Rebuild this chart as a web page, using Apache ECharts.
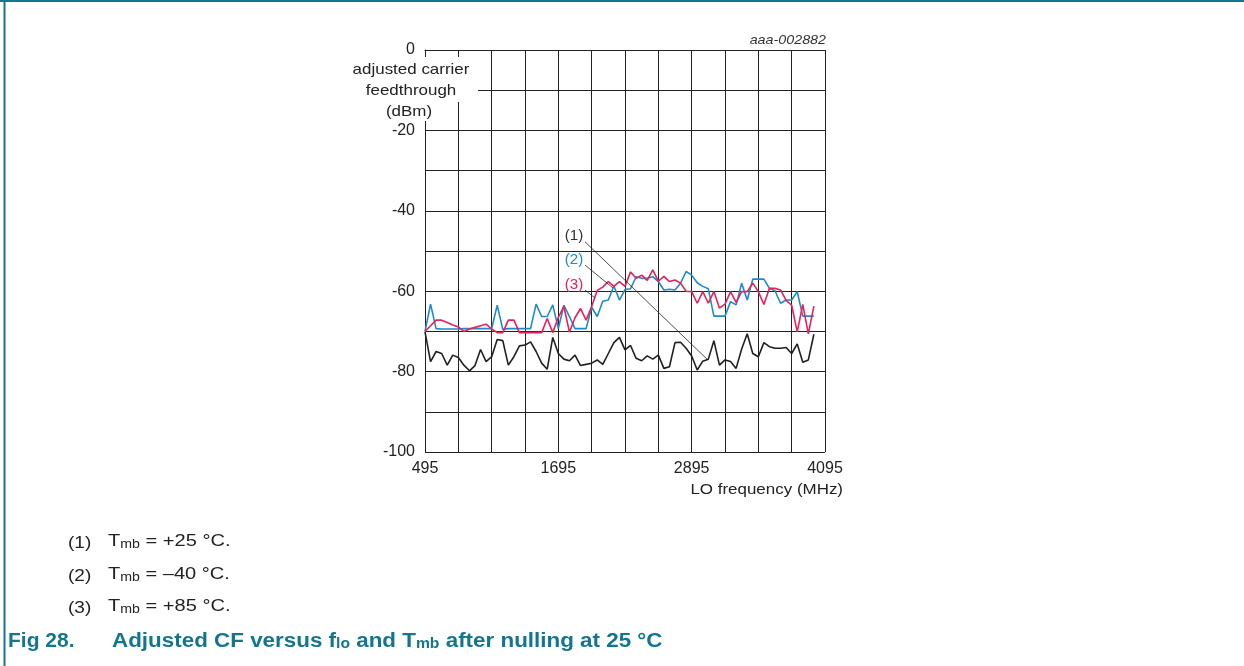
<!DOCTYPE html>
<html>
<head>
<meta charset="utf-8">
<title>Adjusted CF versus flo and Tmb</title>
<script src="https://cdn.jsdelivr.net/npm/echarts@6/dist/echarts.min.js"></script>
<style>
html, body { margin: 0; padding: 0; background: #fff; }
#chart { width: 1244px; height: 666px; }
</style>
</head>
<body>
<div id="chart"></div>
<script>
// LO frequency (MHz), one sample every 50 MHz
var loFreq = [495, 545, 595, 645, 695, 745, 795, 845, 895, 945,
	995, 1045, 1095, 1145, 1195, 1245, 1295, 1345, 1395, 1445,
	1495, 1545, 1595, 1645, 1695, 1745, 1795, 1845, 1895, 1945,
	1995, 2045, 2095, 2145, 2195, 2245, 2295, 2345, 2395, 2445,
	2495, 2545, 2595, 2645, 2695, 2745, 2795, 2845, 2895, 2945,
	2995, 3045, 3095, 3145, 3195, 3245, 3295, 3345, 3395, 3445,
	3495, 3545, 3595, 3645, 3695, 3745, 3795, 3845, 3895, 3945, 3995];

// (1) Tmb = +25 C
var cf25 = [-70.1, -77.5, -75.0, -75.5, -78.4, -75.9, -76.5, -78.4, -79.8, -78.5,
	-74.5, -77.5, -76.3, -72.0, -72.3, -78.4, -76.3, -73.6, -73.4, -72.6,
	-75.0, -77.9, -79.4, -71.5, -75.5, -76.9, -77.3, -75.9, -78.5, -78.2,
	-77.9, -77.1, -78.2, -75.5, -72.8, -71.5, -74.6, -73.5, -76.7, -77.3,
	-76.1, -76.9, -75.9, -79.2, -78.8, -72.8, -72.7, -74.2, -76.1, -79.6,
	-77.4, -76.9, -72.3, -78.4, -77.1, -77.5, -79.2, -74.4, -70.6, -75.5,
	-76.3, -72.8, -73.8, -74.2, -74.2, -74.0, -75.5, -73.1, -77.7, -77.1, -70.7];

// (2) Tmb = -40 C
var cfM40 = [-70.0, -63.2, -69.3, -69.4, -69.4, -69.4, -69.4, -69.3, -69.3, -69.3,
	-69.3, -69.3, -69.3, -63.5, -69.5, -69.3, -69.3, -69.3, -69.3, -69.3,
	-63.2, -66.3, -66.3, -63.4, -69.3, -63.5, -66.3, -69.3, -69.3, -69.3,
	-64.0, -66.3, -62.5, -62.2, -58.7, -62.2, -59.6, -59.4, -56.4, -56.8,
	-56.8, -56.4, -57.6, -59.7, -59.5, -59.7, -58.0, -55.1, -56.0, -57.9,
	-58.8, -59.4, -66.2, -66.2, -66.2, -62.6, -63.4, -58.0, -62.2, -57.0,
	-57.0, -57.0, -59.3, -59.9, -63.0, -62.2, -62.2, -60.1, -66.2, -66.2, -66.2];

// (3) Tmb = +85 C
var cf85 = [-70.0, -68.6, -67.2, -67.2, -67.8, -68.4, -68.9, -70.0, -69.4, -69.0,
	-68.6, -68.2, -69.4, -70.3, -70.3, -67.2, -67.2, -70.3, -70.3, -70.3,
	-70.3, -70.3, -66.8, -70.3, -66.5, -63.8, -70.2, -66.6, -64.3, -67.2,
	-63.8, -59.8, -59.0, -57.6, -58.8, -57.6, -58.8, -55.2, -56.8, -56.0,
	-57.3, -54.7, -57.5, -56.3, -57.6, -57.2, -58.0, -60.0, -60.1, -63.0,
	-60.1, -63.0, -60.1, -64.2, -63.2, -60.1, -62.8, -60.1, -60.1, -58.0,
	-60.1, -63.3, -59.3, -59.3, -59.7, -62.3, -63.5, -70.1, -63.3, -70.6, -63.7];

var xTickLabels = ['495', '1695', '2895', '4095'];
var yTickLabels = ['0', '-20', '-40', '-60', '-80', '-100'];

var X0 = 495; // axis starts at 495 MHz, values are shifted so ticks fall on 300 MHz steps
var FONT = '"Liberation Sans", Arial, sans-serif';
var TEAL = '#13768f';
var INK = '#222';

function toPairs(vals) {
	return loFreq.map(function(f, i) { return [f - X0, vals[i]]; });
}

// leader line from a label to its curve (data coordinates, MHz / dBm)
function leader(f1, v1, f2, v2) {
	return {
		silent: true,
		symbol: ['none', 'none'],
		animation: false,
		label: { show: false },
		lineStyle: { color: INK, width: 0.8, type: 'solid' },
		data: [[{ coord: [f1 - X0, v1] }, { coord: [f2 - X0, v2] }]]
	};
}

function note(y, text) {
	return { type: 'text', z: 101, x: 108, y: y, scaleX: 1.18, style: {
		text: text, fill: INK,
		rich: {
			t: { fontSize: 17, fontFamily: FONT, lineHeight: 20, verticalAlign: 'top', fill: INK },
			s: { fontSize: 12, fontFamily: FONT, lineHeight: 20, padding: [6, 0, 0, 0], verticalAlign: 'top', fill: INK }
		}
	} };
}

function noteNum(y, text) {
	return { type: 'text', z: 101, x: 68, y: y, scaleX: 1.12, style: { text: text, font: '17px ' + FONT, fill: INK, verticalAlign: 'middle' } };
}

var chart = echarts.init(document.getElementById('chart'), null, { renderer: 'canvas' });

var option = {
	animation: false,
	backgroundColor: '#fff',
	grid: { left: 425, top: 50, width: 400, height: 402 },
	xAxis: {
		type: 'value',
		min: 0,
		max: 3600,
		interval: 300,
		axisLine: { show: true, lineStyle: { color: INK, width: 1 } },
		axisTick: { show: false },
		splitLine: { show: true, lineStyle: { color: INK, width: 1 } },
		axisLabel: {
			margin: 9,
			color: INK,
			fontFamily: FONT,
			fontSize: 16,
			showMinLabel: true,
			showMaxLabel: true,
			formatter: function(v) {
				return v % 1200 === 0 ? xTickLabels[v / 1200] : '';
			}
		}
	},
	yAxis: {
		type: 'value',
		min: -100,
		max: 0,
		interval: 10,
		axisLine: { show: true, lineStyle: { color: INK, width: 1 } },
		axisTick: { show: false },
		splitLine: { show: true, lineStyle: { color: INK, width: 1 } },
		axisLabel: {
			margin: 10,
			color: INK,
			fontFamily: FONT,
			fontSize: 16,
			formatter: function(v) {
				return v % 20 === 0 ? yTickLabels[-v / 20] : '';
			}
		}
	},
	series: [{
		name: '(1)',
		type: 'line',
		data: toPairs(cf25),
		showSymbol: false,
		lineStyle: { color: '#231f20', width: 1.6 },
		markLine: leader(1935, -47.7, 3033, -76.9)
	}, {
		name: '(2)',
		type: 'line',
		data: toPairs(cfM40),
		showSymbol: false,
		lineStyle: { color: '#1d8bcb', width: 1.6 },
		markLine: leader(1935, -53.5, 2187, -59.2)
	}, {
		name: '(3)',
		type: 'line',
		data: toPairs(cf85),
		showSymbol: false,
		lineStyle: { color: '#e8215a', width: 1.6 },
		markLine: leader(1935, -59.7, 2025, -61.7)
	}],
	graphic: [
		// page frame
		{ type: 'line', z: 100, shape: { x1: 0, y1: 1, x2: 1244, y2: 1 }, style: { stroke: TEAL, lineWidth: 2 } },
		{ type: 'line', z: 100, shape: { x1: 4.5, y1: 0, x2: 4.5, y2: 666 }, style: { stroke: TEAL, lineWidth: 2 } },
		// y axis name sits on white boxes that hide the grid behind it
		{ type: 'rect', z: 100, shape: { x: 344, y: 57, width: 134, height: 45 }, style: { fill: '#fff' } },
		{ type: 'rect', z: 100, shape: { x: 378, y: 101, width: 62, height: 20 }, style: { fill: '#fff' } },
		{ type: 'text', z: 101, x: 411, y: 70, scaleX: 1.13, style: { text: 'adjusted carrier', font: '15px ' + FONT, fill: INK, align: 'center', verticalAlign: 'middle' } },
		{ type: 'text', z: 101, x: 411, y: 91, scaleX: 1.13, style: { text: 'feedthrough', font: '15px ' + FONT, fill: INK, align: 'center', verticalAlign: 'middle' } },
		{ type: 'text', z: 101, x: 409, y: 112, scaleX: 1.13, style: { text: '(dBm)', font: '15px ' + FONT, fill: INK, align: 'center', verticalAlign: 'middle' } },
		// x axis name and figure id
		{ type: 'text', z: 101, x: 843, y: 490, scaleX: 1.13, style: { text: 'LO frequency (MHz)', font: '15px ' + FONT, fill: INK, align: 'right', verticalAlign: 'middle' } },
		{ type: 'text', z: 101, x: 826, y: 40, scaleX: 1.1, style: { text: 'aaa-002882', font: 'italic 13px ' + FONT, fill: '#333', align: 'right', verticalAlign: 'middle' } },
		// curve labels
		{ type: 'text', z: 101, x: 574, y: 236, scaleX: 1.08, style: { text: '(1)', font: '14px ' + FONT, fill: '#333', align: 'center', verticalAlign: 'middle' } },
		{ type: 'text', z: 101, x: 574, y: 260, scaleX: 1.08, style: { text: '(2)', font: '14px ' + FONT, fill: '#1d8bcb', align: 'center', verticalAlign: 'middle' } },
		{ type: 'text', z: 101, x: 574, y: 285, scaleX: 1.08, style: { text: '(3)', font: '14px ' + FONT, fill: '#e8215a', align: 'center', verticalAlign: 'middle' } },
		// footnotes
		noteNum(543, '(1)'),
		noteNum(576, '(2)'),
		noteNum(608, '(3)'),
		note(533, '{t|T}{s|mb}{t| = +25 °C.}'),
		note(566, '{t|T}{s|mb}{t| = –40 °C.}'),
		note(598, '{t|T}{s|mb}{t| = +85 °C.}'),
		// caption
		{ type: 'text', z: 101, x: 8, y: 641, scaleX: 1.05, style: { text: 'Fig 28.', font: 'bold 20px ' + FONT, fill: TEAL, verticalAlign: 'middle' } },
		{ type: 'text', z: 101, x: 112, y: 631, scaleX: 1.12, style: {
			text: '{t|Adjusted CF versus f}{s|lo}{t| and T}{s|mb}{t| after nulling at 25 °C}', fill: TEAL,
			rich: {
				t: { fontSize: 20, fontWeight: 'bold', fontFamily: FONT, lineHeight: 24, verticalAlign: 'top', fill: TEAL },
				s: { fontSize: 14, fontWeight: 'bold', fontFamily: FONT, lineHeight: 24, padding: [6, 0, 0, 0], verticalAlign: 'top', fill: TEAL }
			}
		} }
	]
};

chart.setOption(option);
</script>
</body>
</html>
